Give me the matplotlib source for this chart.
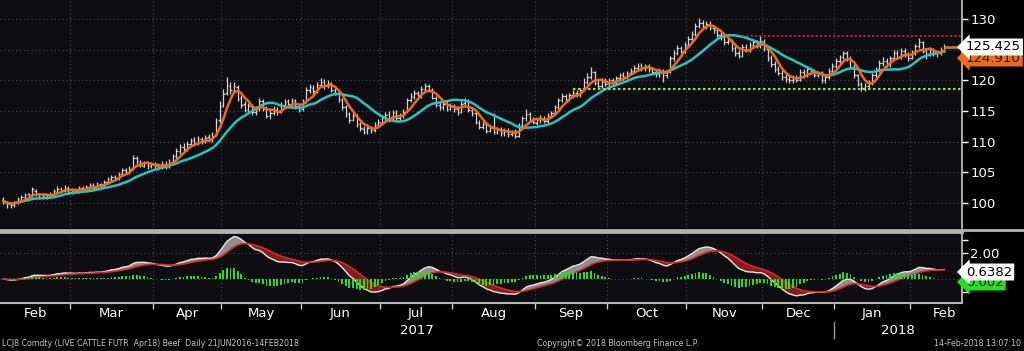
import numpy as np
import pandas as pd
import matplotlib
matplotlib.use("Agg")
import matplotlib.pyplot as plt
from matplotlib.lines import Line2D

# LCJ8 Comdty daily bars, 1 Feb 2017 - 14 Feb 2018
holidays = ["2017-02-20", "2017-04-14", "2017-05-29", "2017-07-04", "2017-09-04",
            "2017-11-23", "2017-12-25", "2018-01-01", "2018-01-15", "2018-02-19"]

bar_close = [
    # Feb 2017
    100.3, 99.8, 99.6, 100.1, 100.6, 100.9, 101.3, 101.0, 102.2, 101.5,
    101.0, 101.2, 101.0, 101.5, 101.9, 102.3, 102.0, 102.5, 101.8,
    # Mar
    102.1, 101.9, 102.4, 102.2, 102.6, 102.9, 102.5, 103.0, 102.8, 103.4,
    103.9, 104.2, 104.0, 104.7, 105.3, 105.1, 105.6, 107.4, 106.8, 106.2,
    106.5, 106.0, 106.3,
    # Apr
    106.1, 105.8, 106.3, 106.0, 106.6, 107.6, 108.4, 109.1, 108.8, 109.6,
    110.1, 109.7, 110.4, 110.0, 110.6, 110.3, 111.0, 113.2, 115.8,
    # May
    117.8, 119.2, 118.4, 119.0, 117.0, 116.0, 115.2, 115.8, 114.9, 115.3,
    116.6, 115.4, 114.2, 114.6, 115.2, 114.8, 115.9, 116.5, 116.1, 116.7,
    115.8, 115.2,
    # Jun
    116.4, 118.4, 118.9, 118.2, 119.3, 119.8, 119.0, 119.6, 118.4, 118.0,
    116.9, 115.6, 114.6, 113.6, 114.2, 112.8, 112.2, 111.6, 112.3, 111.9,
    112.7, 113.2,
    # Jul
    113.8, 114.4, 113.6, 114.8, 113.8, 114.2, 114.9, 116.8, 117.4, 117.9,
    117.6, 118.6, 119.0, 118.5, 117.2, 116.0, 115.6, 116.2, 115.4, 115.8,
    # Aug
    115.3, 114.9, 116.2, 116.6, 115.2, 114.6, 113.2, 112.4, 112.9, 111.8,
    112.3, 111.6, 112.0, 111.4, 111.8, 111.2, 111.6, 111.0, 112.6, 113.8,
    114.5, 113.6, 113.2,
    # Sep
    113.5, 113.9, 113.4, 114.2, 114.6, 115.6, 116.8, 117.4, 117.0, 117.6,
    118.0, 117.7, 118.4, 119.8, 120.6, 121.4, 119.6, 119.0, 119.8, 119.4,
    # Oct
    120.0, 119.6, 120.3, 120.8, 120.5, 121.2, 121.6, 122.0, 122.4, 122.0,
    122.3, 121.8, 121.4, 121.0, 121.6, 120.8, 121.3, 123.6, 124.5, 125.2,
    124.8, 125.8,
    # Nov
    126.8, 127.6, 128.9, 129.4, 128.8, 129.2, 128.6, 128.2, 127.4, 127.0,
    126.2, 126.4, 125.2, 124.4, 124.0, 125.4, 125.0, 125.8, 126.2, 125.6,
    126.4,
    # Dec
    125.2, 123.6, 122.6, 121.8, 121.2, 120.6, 120.2, 120.0, 120.4, 120.1,
    121.4, 120.8, 121.8, 121.4, 120.9, 121.2, 120.0, 120.6, 121.6, 122.4,
    # Jan 2018
    123.2, 123.8, 124.4, 123.6, 122.2, 120.8, 119.4, 118.8, 119.0, 119.6,
    120.8, 121.8, 122.8, 123.2, 122.6, 123.6, 124.4, 123.8, 124.8, 124.2,
    123.6,
    # Feb 2018
    124.6, 125.6, 126.2, 124.8, 124.2, 125.0, 124.4, 124.4, 125.0, 125.425,
]

bar_open = [
    100.6, 100.2, 99.9, 99.7, 100.2, 100.5, 101.0, 101.4, 101.1, 102.0,
    101.4, 101.0, 101.3, 101.1, 101.5, 101.8, 102.3, 102.0, 102.4,
    101.8, 102.2, 101.9, 102.4, 102.3, 102.6, 102.9, 102.5, 103.1, 102.8,
    103.4, 103.9, 104.3, 104.0, 104.7, 105.3, 105.1, 105.7, 107.3, 106.7,
    106.1, 106.5, 106.0,
    106.3, 106.1, 105.8, 106.4, 106.0, 106.7, 107.7, 108.4, 109.2, 108.8,
    109.6, 110.2, 109.7, 110.4, 110.0, 110.7, 110.3, 111.2, 113.5,
    116.0, 118.0, 119.1, 118.3, 118.9, 117.1, 116.1, 115.1, 115.9, 114.8,
    115.4, 116.7, 115.4, 114.2, 114.7, 115.3, 114.9, 116.0, 116.6, 116.0,
    116.8, 115.7,
    115.3, 116.6, 118.5, 118.8, 118.3, 119.3, 119.8, 119.0, 119.6, 118.3,
    118.0, 116.8, 115.6, 114.5, 113.6, 114.3, 112.8, 112.1, 111.7, 112.3,
    111.9, 112.8,
    113.1, 113.8, 114.5, 113.6, 114.7, 113.9, 114.2, 115.0, 116.8, 117.3,
    117.9, 117.5, 118.6, 119.0, 118.4, 117.1, 116.0, 115.7, 116.2, 115.4,
    115.8, 115.3, 114.9, 116.3, 116.6, 115.1, 114.6, 113.1, 112.4, 112.9,
    111.8, 112.4, 111.6, 112.1, 111.4, 111.9, 111.2, 111.7, 111.0, 112.7,
    113.8, 114.5, 113.6,
    113.1, 113.5, 113.9, 113.4, 114.2, 114.7, 115.7, 116.8, 117.4, 117.0,
    117.6, 118.0, 117.7, 118.5, 119.8, 120.6, 121.3, 119.6, 119.0, 119.8,
    119.4, 120.0, 119.6, 120.3, 120.9, 120.5, 121.2, 121.6, 122.0, 122.5,
    122.0, 122.3, 121.8, 121.4, 121.0, 121.6, 120.8, 121.4, 123.6, 124.5,
    125.2, 124.8,
    125.8, 126.8, 127.6, 128.9, 129.4, 128.8, 129.2, 128.6, 128.2, 127.4,
    127.0, 126.2, 126.4, 125.2, 124.4, 124.0, 125.4, 125.0, 125.8, 126.2,
    125.6,
    126.4, 125.1, 123.6, 122.6, 121.8, 121.2, 120.6, 120.2, 120.0, 120.4,
    120.1, 121.4, 120.8, 121.8, 121.4, 120.9, 121.2, 120.0, 120.6, 121.6,
    122.4, 123.2, 123.8, 124.4, 123.6, 122.2, 120.8, 119.4, 118.8, 119.0,
    119.6, 120.8, 121.8, 122.8, 123.2, 122.6, 123.6, 124.4, 123.8, 124.8,
    124.2,
    123.6, 124.6, 125.6, 126.2, 124.8, 124.2, 125.0, 124.4, 124.4, 125.0,
]

bar_high = [
    100.9, 100.4, 100.2, 100.4, 100.9, 101.3, 101.6, 101.7, 102.6, 102.3,
    101.7, 101.6, 101.5, 101.8, 102.2, 102.7, 102.6, 102.9, 102.7,
    102.5, 102.4, 102.7, 102.7, 102.9, 103.2, 103.2, 103.4, 103.3, 103.7,
    104.3, 104.6, 104.6, 105.1, 105.7, 105.7, 106.0, 107.9, 107.6, 107.0,
    106.9, 106.8, 106.7,
    106.7, 106.5, 106.8, 106.8, 107.1, 108.0, 108.9, 109.6, 109.7, 110.1,
    110.6, 110.7, 110.9, 110.8, 111.1, 111.2, 111.5, 113.8, 116.6,
    118.6, 120.5, 119.8, 119.7, 119.3, 117.6, 116.6, 116.3, 116.2, 115.8,
    117.2, 117.0, 115.8, 115.2, 115.8, 115.6, 116.4, 117.0, 116.9, 117.2,
    117.0, 116.2,
    116.9, 118.9, 119.4, 119.2, 119.8, 120.4, 120.2, 120.1, 119.8, 118.8,
    118.3, 117.1, 116.0, 114.9, 114.7, 114.5, 113.2, 112.6, 112.8, 112.6,
    113.2, 113.7,
    114.3, 114.9, 115.0, 115.2, 115.1, 114.7, 115.4, 117.2, 117.9, 118.4,
    118.3, 119.1, 119.6, 119.4, 118.7, 117.5, 116.4, 116.7, 116.6, 116.3,
    116.2, 115.8, 116.6, 117.1, 116.9, 115.5, 114.9, 113.5, 113.3, 113.2,
    112.7, 114.6, 112.4, 112.4, 112.2, 112.2, 111.9, 112.0, 113.0, 114.2,
    115.3, 114.8, 114.0,
    113.9, 114.3, 114.2, 114.6, 115.0, 116.0, 117.2, 117.9, 117.8, 118.0,
    118.5, 118.4, 118.8, 120.3, 121.2, 122.2, 121.6, 120.0, 120.3, 120.3,
    120.4, 120.3, 120.7, 121.2, 121.3, 121.6, 122.0, 122.5, 122.9, 122.8,
    122.7, 122.6, 122.1, 121.8, 122.0, 121.9, 121.7, 124.0, 125.0, 125.7,
    125.6, 126.3,
    127.3, 128.0, 129.4, 130.1, 129.9, 129.7, 129.6, 129.0, 128.6, 127.9,
    127.4, 126.9, 126.8, 125.6, 124.9, 125.9, 125.9, 126.3, 126.7, 126.6,
    127.2,
    126.8, 125.5, 124.2, 123.1, 122.3, 121.7, 121.0, 120.7, 120.9, 120.9,
    121.9, 121.8, 122.4, 122.2, 121.8, 121.6, 121.5, 121.1, 122.0, 122.8,
    123.6, 124.2, 124.8, 124.8, 123.9, 122.6, 121.1, 119.8, 119.5, 120.0,
    121.2, 122.2, 123.3, 123.8, 123.6, 124.0, 124.9, 124.9, 125.3, 125.2,
    124.6,
    125.0, 126.0, 126.9, 126.4, 125.2, 125.4, 125.3, 124.9, 125.4, 125.9,
]

bar_low = [
    99.8, 99.2, 99.1, 99.4, 99.9, 100.3, 100.7, 100.6, 100.9, 101.2,
    100.6, 100.7, 100.6, 100.9, 101.2, 101.6, 101.7, 101.8, 101.5,
    101.5, 101.6, 101.6, 101.9, 102.0, 102.3, 102.2, 102.3, 102.5, 102.6,
    103.1, 103.6, 103.7, 103.8, 104.4, 104.7, 104.8, 105.4, 106.3, 105.8,
    105.8, 105.6, 105.7,
    105.6, 105.4, 105.5, 105.6, 105.7, 106.4, 107.3, 108.0, 108.3, 108.5,
    109.2, 109.3, 109.4, 109.6, 109.8, 110.0, 110.0, 110.9, 113.0,
    115.6, 117.6, 117.8, 118.0, 116.6, 115.5, 114.8, 114.7, 114.4, 114.3,
    115.0, 115.0, 113.8, 113.7, 114.3, 114.3, 114.6, 115.5, 115.6, 115.7,
    115.4, 114.8,
    115.0, 116.3, 118.0, 117.8, 117.9, 118.9, 118.6, 118.7, 118.1, 117.6,
    116.5, 115.2, 114.1, 113.1, 113.3, 112.4, 111.7, 111.2, 111.3, 111.4,
    111.6, 112.3,
    112.8, 113.4, 113.2, 113.3, 113.5, 113.5, 113.9, 114.8, 116.4, 117.0,
    117.1, 117.2, 118.2, 118.1, 116.9, 115.7, 115.2, 115.2, 115.0, 115.1,
    114.9, 114.4, 114.6, 115.9, 114.9, 114.2, 112.9, 112.0, 112.0, 111.4,
    111.5, 111.2, 111.2, 111.0, 111.0, 110.8, 110.9, 110.6, 110.7, 112.3,
    113.4, 113.2, 112.8,
    112.7, 113.1, 113.0, 113.0, 113.8, 114.3, 115.4, 116.4, 116.6, 116.7,
    117.2, 117.3, 117.3, 118.2, 119.4, 120.2, 119.2, 118.6, 118.7, 119.0,
    119.0, 119.2, 119.3, 119.9, 120.1, 120.2, 120.8, 121.2, 121.6, 121.6,
    121.6, 121.4, 121.0, 120.6, 120.6, 119.8, 120.3, 121.2, 123.2, 124.1,
    124.4, 124.4,
    125.4, 126.4, 127.2, 128.5, 128.4, 128.4, 128.2, 127.8, 127.0, 126.6,
    125.8, 125.9, 124.8, 124.0, 123.6, 123.8, 124.6, 124.7, 125.4, 125.2,
    125.3,
    124.8, 123.2, 122.2, 121.4, 120.8, 120.1, 119.8, 119.6, 119.6, 119.7,
    119.9, 120.3, 120.5, 121.0, 120.5, 120.5, 119.5, 119.6, 120.2, 121.2,
    122.0, 122.9, 123.4, 123.2, 121.8, 120.4, 119.0, 118.3, 118.3, 118.6,
    119.2, 120.4, 121.4, 122.4, 122.2, 122.2, 123.2, 123.4, 123.4, 123.8,
    123.2,
    123.4, 124.2, 125.2, 124.4, 123.4, 123.9, 124.0, 123.8, 124.2, 124.6,
]

# horizontal study lines drawn on the chart
resistance_level, resistance_from = 127.2, "2017-11-22"
support_level, support_from = 118.6, "2017-09-18"
# value boxes at the right edge
last_label, fast_ma_label = "125.425", "124.910"
macd_label, hist_label = "0.6382", "0.002"

for arr in (bar_open, bar_high, bar_low):
    if len(arr) != len(bar_close):
        raise ValueError("length mismatch %d vs %d" % (len(arr), len(bar_close)))

# ---- calendar (trading days) ----
cal = pd.bdate_range("2017-02-01", "2018-02-28")
cal = cal[~cal.isin(pd.to_datetime(holidays))]
n = len(bar_close)
dates = cal[:n]
x = np.arange(n)

close = pd.Series(bar_close)
ma_fast = close.rolling(5, min_periods=1).mean()
ma_slow = close.rolling(15, min_periods=1).mean()
macd = close.ewm(span=12, adjust=False).mean() - close.ewm(span=26, adjust=False).mean()
signal = macd.ewm(span=9, adjust=False).mean()
hist = macd - signal

# ---- figure ----
W, H = 1024, 351
fig = plt.figure(figsize=(W / 100, H / 100), dpi=100)
fig.patch.set_facecolor("black")


def box(l, t, r, b):
    return [l / W, 1 - b / H, (r - l) / W, (b - t) / H]


bg = "#0d0d12"
grid_kw = dict(color="#4c4c52", lw=0.8, ls=(0, (1, 2.5)))
xmin = -0.92
xmax = xmin + 962 / 3.605

ax = fig.add_axes(box(0, 0, 962, 228))
ax2 = fig.add_axes(box(0, 232, 962, 303))

months = cal.to_period("M")
starts = [i for i in range(len(cal)) if i == 0 or months[i] != months[i - 1]]
bounds = starts + [len(cal)]

for a in (ax, ax2):
    a.set_facecolor(bg)
    a.set_xlim(xmin, xmax)
    for s in starts[1:]:
        a.axvline(s - 0.5, zorder=0, **grid_kw)
    for side in ("left", "top", "bottom"):
        a.spines[side].set_visible(False)
    a.spines["right"].set_color("#c8c8c8")
    a.spines["right"].set_linewidth(1.2)
    a.yaxis.tick_right()
    a.tick_params(axis="y", colors="white", labelcolor="white", labelsize=9.5,
                  length=4, width=1, pad=2)

# ---- price panel ----
ax.set_ylim(95.92, 133.1)
ax.set_yticks([100, 105, 110, 115, 120, 125, 130])
for v in ax.get_yticks():
    ax.axhline(v, zorder=0, **grid_kw)
ax.set_xticks([])

bar_col = "#d4d4d4"
ax.vlines(x, bar_low, bar_high, color=bar_col, lw=0.9, zorder=2)
ax.hlines(bar_open, x - 0.4, x, color=bar_col, lw=0.9, zorder=2)
ax.hlines(bar_close, x, x + 0.4, color=bar_col, lw=0.9, zorder=2)

ax.plot(x, ma_slow, color="#27c4c4", lw=1.8, zorder=3)
ax.plot(x, ma_fast, color="#f06a1c", lw=1.8, zorder=4)

r0 = dates.get_loc(pd.Timestamp(resistance_from))
s0 = dates.get_loc(pd.Timestamp(support_from))
ax.hlines(resistance_level, r0, xmax, colors="#c8283c", lw=1.3, linestyles=(0, (1.2, 1.2)), zorder=3)
ax.hlines(support_level, s0, xmax, colors="#a8e01e", lw=1.5, linestyles=(0, (1.2, 1.2)), zorder=3)
ax.hlines(bar_close[-1], x[-1], xmax, colors="#b87a2a", lw=2, zorder=3)

# ---- MACD panel ----
ax2.set_ylim(-1.846, 3.615)
ax2.set_yticks([-1, 0, 1, 2, 3])
ax2.set_yticklabels(["", "", "", "2.00", ""])
ax2.axhline(2, zorder=0, **grid_kw)
ax2.axhline(0, zorder=0, **grid_kw)
m, sg = macd.values, signal.values
ax2.fill_between(x, m, sg, where=m >= sg, interpolate=True, color="#8e8e8e", lw=0, zorder=2)
ax2.fill_between(x, m, sg, where=m < sg, interpolate=True, color="#8a1c1c", lw=0, zorder=2)
ax2.plot(x, m, color="#e8e8e8", lw=1, zorder=3)
ax2.plot(x, sg, color="#d42a2a", lw=1.2, zorder=3)
ax2.bar(x, hist, width=0.5, color="#22e022", zorder=4)

ax2.spines["top"].set_visible(True)
ax2.spines["top"].set_color("#b4b4b4")
ax2.spines["top"].set_linewidth(2)
ax2.spines["bottom"].set_visible(True)
ax2.spines["bottom"].set_color("#b4b4b4")
ax2.spines["bottom"].set_linewidth(1.5)

# month ticks and labels
mids = [(bounds[k] + bounds[k + 1] - 1) / 2 for k in range(len(starts))]
ax2.set_xticks(mids)
ax2.set_xticklabels([cal[s].strftime("%b") for s in starts])
ax2.set_xticks([s - 0.5 for s in starts[1:]], minor=True)
ax2.tick_params(axis="x", which="major", length=0, pad=3, labelsize=9.5, labelcolor="white")
ax2.tick_params(axis="x", which="minor", length=4, color="#c8c8c8", width=1)

y2018 = starts[[cal[s].year for s in starts].index(2018)]
ax2.text((xmin + y2018 - 0.5) / 2, -0.394, "2017", transform=ax2.get_xaxis_transform(),
         ha="center", va="center", color="white", fontsize=9.5)
ax2.text((y2018 - 0.5 + xmax) / 2, -0.394, "2018", transform=ax2.get_xaxis_transform(),
         ha="center", va="center", color="white", fontsize=9.5)
ax2.plot([y2018 - 0.5] * 2, [-0.27, -0.49], transform=ax2.get_xaxis_transform(),
         color="#9a9a9a", lw=1, clip_on=False)

# separator across full width
fig.add_artist(Line2D([0, 1], [1 - 230 / H] * 2, transform=fig.transFigure, color="#b4b4b4", lw=2))

# value boxes (the second box of each pair sits partly behind the first, as on the terminal)
fig.text(966 / W, 1 - 58 / H, fast_ma_label, color="#1a1a1a", fontsize=9.5, va="center",
         bbox=dict(boxstyle="larrow,pad=0.15", fc="#f06a1c", ec="none"))
fig.text(966 / W, 1 - 47 / H, last_label, color="black", fontsize=9.5, va="center",
         bbox=dict(boxstyle="larrow,pad=0.15", fc="white", ec="none"))
fig.text(966 / W, 1 - 282 / H, hist_label, color="#1a1a1a", fontsize=9.5, va="center",
         bbox=dict(boxstyle="larrow,pad=0.15", fc="#22e022", ec="none"))
fig.text(966 / W, 1 - 272 / H, macd_label, color="black", fontsize=9.5, va="center",
         bbox=dict(boxstyle="larrow,pad=0.15", fc="white", ec="none"))

# footer
fig.text(2 / W, 1 - 344 / H, "LCJ8 Comdty (LIVE CATTLE FUTR  Apr18) Beef  Daily 21JUN2016-14FEB2018",
         color="#c4c4c4", fontsize=5.7, va="center")
fig.text(537 / W, 1 - 344 / H, "Copyright\u00a9 2018 Bloomberg Finance L.P.",
         color="#c4c4c4", fontsize=5.7, va="center")
fig.text(1021 / W, 1 - 344 / H, "14-Feb-2018 13:07:10",
         color="#c4c4c4", fontsize=5.7, va="center", ha="right")

fig.savefig("out.png", dpi=100, facecolor=fig.get_facecolor())
